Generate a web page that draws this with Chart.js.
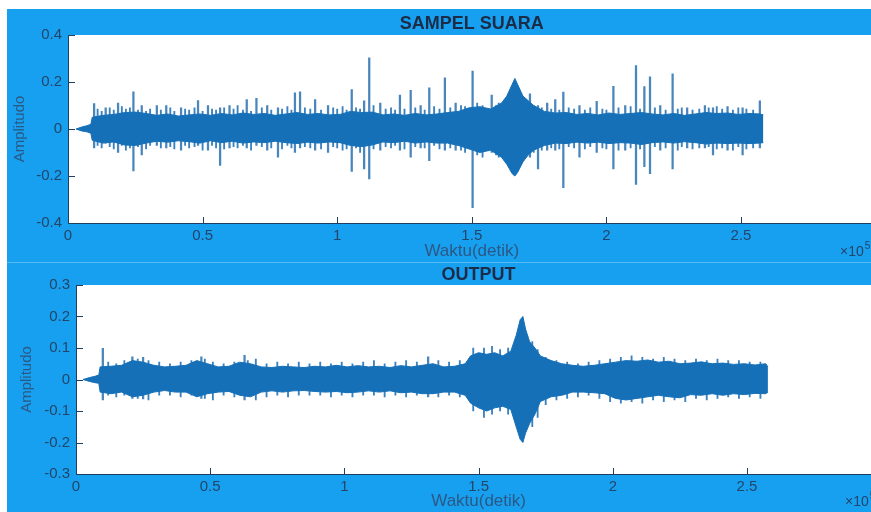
<!DOCTYPE html>
<html>
<head>
<meta charset="utf-8">
<script src="https://cdn.jsdelivr.net/npm/chart.js@4.4.0/dist/chart.umd.min.js"></script>
<style>
  html, body { margin: 0; padding: 0; width: 871px; height: 512px; overflow: hidden; background: #fff; }
  #bg { position: absolute; left: 7px; top: 9px; width: 864px; height: 503px; background: #18a0f0; }
  #seam { position: absolute; left: 7px; top: 262px; width: 864px; height: 1px; background: #55bbf6; }
  canvas { position: absolute; left: 0; }
  #topChart { top: 0; }
  #botChart { top: 262px; }
</style>
</head>
<body>
<div id="bg"></div>
<div id="seam"></div>
<canvas id="topChart" width="890" height="262"></canvas>
<canvas id="botChart" width="895" height="250"></canvas>
<script>
// ---------------------------------------------------------------
// Data (time in x10^5 samples, amplitude)
// ---------------------------------------------------------------

// SAMPEL SUARA: envelope of the dense waveform
const tTop = [
  0.03, 0.05, 0.07, 0.085, 0.09, 0.13, 0.17, 0.21, 0.25, 0.29,
  0.33, 0.37, 0.41, 0.45, 0.49, 0.53, 0.57, 0.61, 0.65, 0.69,
  0.73, 0.77, 0.81, 0.85, 0.89, 0.93, 0.97, 1.01, 1.05, 1.09,
  1.13, 1.17, 1.21, 1.25, 1.29, 1.33, 1.37, 1.41, 1.45, 1.49,
  1.53, 1.57, 1.61, 1.63, 1.65, 1.66, 1.67, 1.69, 1.71, 1.73,
  1.77, 1.81, 1.85, 1.89, 1.93, 1.97, 2.01, 2.05, 2.09, 2.13,
  2.17, 2.21, 2.25, 2.29, 2.33, 2.37, 2.41, 2.45, 2.49, 2.53,
  2.57, 2.583
];
const upTop = [
  0, 0.008, 0.014, 0.02, 0.05, 0.058, 0.062, 0.07, 0.072, 0.066,
  0.058, 0.064, 0.055, 0.06, 0.064, 0.058, 0.066, 0.06, 0.068, 0.062,
  0.066, 0.058, 0.064, 0.07, 0.062, 0.066, 0.06, 0.062, 0.075, 0.07,
  0.072, 0.06, 0.064, 0.058, 0.066, 0.06, 0.064, 0.07, 0.075, 0.09,
  0.095, 0.085, 0.11, 0.14, 0.19, 0.215, 0.19, 0.14, 0.12, 0.1,
  0.075, 0.068, 0.07, 0.062, 0.066, 0.06, 0.068, 0.062, 0.066, 0.07,
  0.064, 0.06, 0.066, 0.058, 0.064, 0.07, 0.066, 0.068, 0.062, 0.066,
  0.064, 0.06
];
const loTop = [
  0, -0.008, -0.012, -0.018, -0.048, -0.06, -0.055, -0.068, -0.07, -0.06,
  -0.052, -0.056, -0.05, -0.054, -0.06, -0.05, -0.058, -0.052, -0.06, -0.055,
  -0.058, -0.052, -0.058, -0.062, -0.056, -0.06, -0.055, -0.058, -0.07, -0.075,
  -0.068, -0.055, -0.058, -0.052, -0.06, -0.055, -0.06, -0.06, -0.07, -0.085,
  -0.1, -0.09, -0.12, -0.15, -0.19, -0.2, -0.185, -0.14, -0.11, -0.09,
  -0.07, -0.06, -0.062, -0.056, -0.06, -0.056, -0.062, -0.058, -0.06, -0.066,
  -0.058, -0.055, -0.06, -0.054, -0.058, -0.064, -0.06, -0.062, -0.06, -0.062,
  -0.06, -0.058
];

// SAMPEL SUARA: isolated clicks
const spikeTopT = [
  0.097, 0.14, 0.186, 0.243, 0.274, 0.33, 0.365, 0.42, 0.483, 0.52,
  0.565, 0.6, 0.664, 0.7, 0.74, 0.78, 0.843, 0.862, 0.918, 0.966,
  1.054, 1.1, 1.119, 1.16, 1.233, 1.273, 1.31, 1.342, 1.4, 1.44,
  1.503, 1.574, 1.716, 1.746, 1.78, 1.81, 1.84, 1.9, 1.964, 2.026,
  2.07, 2.11, 2.141, 2.162, 2.2, 2.246, 2.3, 2.366, 2.396, 2.45,
  2.506, 2.57
];
const spikeTopHi = [
  0.108, 0.09, 0.11, 0.158, 0.1, 0.1, 0.1, 0.09, 0.121, 0.1,
  0.09, 0.1, 0.125, 0.13, 0.1, 0.09, 0.154, 0.158, 0.125, 0.1,
  0.168, 0.12, 0.303, 0.11, 0.144, 0.165, 0.1, 0.175, 0.218, 0.11,
  0.246, 0.144, 0.15, 0.1, 0.11, 0.125, 0.157, 0.1, 0.118, 0.182,
  0.1, 0.27, 0.18, 0.222, 0.1, 0.235, 0.09, 0.1, 0.09, 0.095,
  0.09, 0.12
];
const spikeTopLo = [
  -0.08, -0.06, -0.1, -0.178, -0.11, -0.07, -0.08, -0.09, -0.07, -0.09,
  -0.155, -0.08, -0.08, -0.07, -0.09, -0.12, -0.1, -0.08, -0.09, -0.1,
  -0.18, -0.17, -0.212, -0.09, -0.09, -0.12, -0.08, -0.135, -0.09, -0.09,
  -0.335, -0.1, -0.12, -0.17, -0.09, -0.09, -0.25, -0.12, -0.1, -0.17,
  -0.09, -0.236, -0.16, -0.19, -0.09, -0.17, -0.08, -0.08, -0.11, -0.09,
  -0.11, -0.08
];

// SAMPEL SUARA: ragged fringe of the band
const fringeTopT = [
  0.11, 0.125, 0.155, 0.17, 0.2, 0.215, 0.23, 0.26, 0.29, 0.305,
  0.345, 0.38, 0.395, 0.435, 0.45, 0.47, 0.5, 0.535, 0.55, 0.58,
  0.615, 0.63, 0.65, 0.68, 0.72, 0.755, 0.795, 0.815, 0.83, 0.88,
  0.9, 0.94, 0.985, 1.0, 1.02, 1.035, 1.07, 1.085, 1.135, 1.18,
  1.2, 1.215, 1.25, 1.29, 1.325, 1.36, 1.38, 1.42, 1.46, 1.475,
  1.52, 1.54, 1.59, 1.6, 1.73, 1.76, 1.795, 1.825, 1.86, 1.88,
  1.92, 1.94, 1.985, 2.0, 2.045, 2.09, 2.125, 2.18, 2.22, 2.265,
  2.28, 2.32, 2.345, 2.38, 2.41, 2.43, 2.47, 2.49, 2.52, 2.545
];
const fringeTopHi = [
  0.085, 0.075, 0.09, 0.08, 0.095, 0.085, 0.09, 0.08, 0.075, 0.085,
  0.08, 0.09, 0.075, 0.085, 0.08, 0.09, 0.075, 0.085, 0.08, 0.09,
  0.085, 0.1, 0.08, 0.075, 0.09, 0.08, 0.085, 0.095, 0.08, 0.09,
  0.085, 0.08, 0.09, 0.085, 0.095, 0.08, 0.09, 0.085, 0.1, 0.085,
  0.09, 0.08, 0.085, 0.09, 0.08, 0.095, 0.085, 0.09, 0.1, 0.095,
  0.11, 0.1, 0.1, 0.11, 0.1, 0.09, 0.085, 0.08, 0.09, 0.085,
  0.08, 0.09, 0.085, 0.08, 0.09, 0.095, 0.085, 0.09, 0.08, 0.085,
  0.09, 0.08, 0.085, 0.09, 0.095, 0.085, 0.08, 0.09, 0.085, 0.08
];
const fringeTopLo = [
  -0.07, -0.08, -0.075, -0.085, -0.07, -0.09, -0.08, -0.075, -0.085, -0.07,
  -0.08, -0.075, -0.085, -0.07, -0.08, -0.075, -0.09, -0.07, -0.08, -0.085,
  -0.075, -0.08, -0.07, -0.09, -0.075, -0.08, -0.085, -0.07, -0.08, -0.075,
  -0.08, -0.085, -0.075, -0.08, -0.09, -0.085, -0.08, -0.1, -0.085, -0.075,
  -0.08, -0.07, -0.085, -0.075, -0.08, -0.07, -0.085, -0.08, -0.09, -0.1,
  -0.11, -0.12, -0.11, -0.12, -0.1, -0.09, -0.08, -0.085, -0.075, -0.08,
  -0.085, -0.075, -0.08, -0.085, -0.09, -0.08, -0.085, -0.075, -0.08, -0.09,
  -0.075, -0.085, -0.08, -0.075, -0.085, -0.08, -0.09, -0.075, -0.085, -0.08
];

// OUTPUT: envelope of the filtered waveform
const tBot = [
  0.026, 0.05, 0.07, 0.085, 0.09, 0.13, 0.17, 0.21, 0.25, 0.29,
  0.33, 0.37, 0.41, 0.45, 0.49, 0.53, 0.57, 0.61, 0.65, 0.69,
  0.73, 0.77, 0.81, 0.85, 0.89, 0.93, 0.97, 1.01, 1.05, 1.09,
  1.13, 1.17, 1.21, 1.25, 1.29, 1.33, 1.37, 1.41, 1.45, 1.47,
  1.50, 1.53, 1.56, 1.59, 1.62, 1.64, 1.655, 1.665, 1.675, 1.69,
  1.71, 1.73, 1.77, 1.81, 1.85, 1.89, 1.93, 1.97, 2.01, 2.05,
  2.09, 2.13, 2.17, 2.21, 2.25, 2.29, 2.33, 2.37, 2.41, 2.45,
  2.49, 2.53, 2.57, 2.578
];
const upBot = [
  0, 0.006, 0.01, 0.014, 0.04, 0.042, 0.045, 0.06, 0.055, 0.045,
  0.04, 0.042, 0.045, 0.06, 0.05, 0.04, 0.042, 0.055, 0.05, 0.04,
  0.038, 0.042, 0.04, 0.038, 0.042, 0.04, 0.045, 0.04, 0.044, 0.04,
  0.042, 0.038, 0.044, 0.04, 0.045, 0.05, 0.04, 0.042, 0.05, 0.075,
  0.085, 0.08, 0.085, 0.075, 0.09, 0.14, 0.19, 0.2, 0.16, 0.12,
  0.1, 0.075, 0.06, 0.05, 0.045, 0.042, 0.045, 0.05, 0.055, 0.06,
  0.058, 0.062, 0.055, 0.058, 0.05, 0.052, 0.056, 0.05, 0.052, 0.048,
  0.05, 0.046, 0.05, 0.04
];
const loBot = [
  0, -0.006, -0.01, -0.012, -0.04, -0.045, -0.04, -0.055, -0.05, -0.04,
  -0.035, -0.04, -0.04, -0.055, -0.045, -0.04, -0.038, -0.05, -0.055, -0.04,
  -0.036, -0.04, -0.036, -0.035, -0.038, -0.04, -0.038, -0.042, -0.04, -0.036,
  -0.04, -0.036, -0.042, -0.04, -0.045, -0.045, -0.04, -0.04, -0.05, -0.075,
  -0.09, -0.1, -0.09, -0.085, -0.095, -0.15, -0.19, -0.2, -0.17, -0.14,
  -0.11, -0.07, -0.055, -0.05, -0.04, -0.04, -0.042, -0.045, -0.06, -0.065,
  -0.06, -0.055, -0.05, -0.055, -0.058, -0.048, -0.05, -0.045, -0.05, -0.045,
  -0.048, -0.044, -0.045, -0.04
];

// OUTPUT: small isolated peaks
const spikeBotT  = [0.1, 0.21, 0.25, 0.467, 0.628, 1.312];
const spikeBotHi = [0.099, 0.072, 0.07, 0.072, 0.077, 0.072];
const spikeBotLo = [-0.065, -0.06, -0.062, -0.06, -0.065, -0.055];

// OUTPUT: ragged fringe of the band
const fringeBotT = [
  0.12, 0.15, 0.18, 0.23, 0.27, 0.31, 0.35, 0.39, 0.43, 0.48,
  0.51, 0.55, 0.59, 0.64, 0.67, 0.71, 0.75, 0.79, 0.83, 0.87,
  0.91, 0.95, 0.99, 1.03, 1.07, 1.11, 1.15, 1.19, 1.23, 1.27,
  1.35, 1.39, 1.43, 1.48, 1.52, 1.55, 1.58, 1.61, 1.7, 1.72,
  1.75, 1.79, 1.83, 1.87, 1.91, 1.95, 1.99, 2.03, 2.07, 2.11,
  2.15, 2.19, 2.23, 2.27, 2.31, 2.35, 2.39, 2.43, 2.47, 2.51,
  2.55
];
const fringeBotHi = [
  0.055, 0.05, 0.06, 0.065, 0.06, 0.055, 0.05, 0.055, 0.06, 0.065,
  0.055, 0.05, 0.055, 0.06, 0.065, 0.05, 0.055, 0.05, 0.055, 0.05,
  0.055, 0.05, 0.055, 0.05, 0.055, 0.06, 0.05, 0.055, 0.06, 0.055,
  0.06, 0.055, 0.06, 0.1, 0.1, 0.105, 0.095, 0.1, 0.12, 0.095,
  0.07, 0.06, 0.055, 0.05, 0.055, 0.06, 0.065, 0.07, 0.075, 0.07,
  0.065, 0.07, 0.065, 0.06, 0.065, 0.06, 0.065, 0.06, 0.06, 0.055,
  0.055
];
const fringeBotLo = [
  -0.05, -0.055, -0.05, -0.06, -0.065, -0.05, -0.05, -0.055, -0.05, -0.06,
  -0.065, -0.05, -0.055, -0.05, -0.065, -0.055, -0.05, -0.055, -0.05, -0.05,
  -0.05, -0.055, -0.05, -0.055, -0.05, -0.05, -0.055, -0.05, -0.055, -0.05,
  -0.055, -0.05, -0.055, -0.1, -0.12, -0.11, -0.1, -0.11, -0.15, -0.12,
  -0.08, -0.065, -0.06, -0.055, -0.05, -0.06, -0.07, -0.075, -0.07, -0.075,
  -0.065, -0.07, -0.065, -0.07, -0.06, -0.065, -0.06, -0.055, -0.06, -0.055,
  -0.06
];

// Axis ticks
const xTickValues = [0, 0.5, 1, 1.5, 2, 2.5];
const xTickLabels = ['0', '0.5', '1', '1.5', '2', '2.5'];
const yTopTickValues = [-0.4, -0.2, 0, 0.2, 0.4];
const yTopTickLabels = ['-0.4', '-0.2', '0', '0.2', '0.4'];
const yBotTickValues = [-0.3, -0.2, -0.1, 0, 0.1, 0.2, 0.3];
const yBotTickLabels = ['-0.3', '-0.2', '-0.1', '0', '0.1', '0.2', '0.3'];

// ---------------------------------------------------------------
// Styling
// ---------------------------------------------------------------
const FONT = '"Liberation Sans", Arial, sans-serif';
const WAVE = '#1570b8';
const SPIKE = 'rgba(28, 104, 170, 0.8)';
const FRINGE = 'rgba(24, 108, 180, 0.85)';
const AXIS = '#1f3f60';
const TICK = '#22456a';
const LABEL = '#2b5884';
const TITLE = '#1a2c47';

// white plot box, axes title, inward tick marks and the x10^5 exponent
const plotDecor = {
  id: 'plotDecor',
  beforeDraw(chart) {
    const { ctx, chartArea: a } = chart;
    ctx.save();
    ctx.fillStyle = '#ffffff';
    ctx.fillRect(a.left, a.top, a.right - a.left, a.bottom - a.top);
    ctx.restore();
  },
  afterDraw(chart, args, opts) {
    const { ctx, chartArea: a, scales: { x, y } } = chart;
    ctx.save();
    ctx.strokeStyle = AXIS;
    ctx.lineWidth = 1;
    ctx.beginPath();
    x.ticks.forEach(t => {
      const px = Math.round(x.getPixelForValue(t.value)) + 0.5;
      ctx.moveTo(px, a.bottom);
      ctx.lineTo(px, a.bottom - 6);
    });
    y.ticks.forEach(t => {
      const py = Math.round(y.getPixelForValue(t.value)) + 0.5;
      ctx.moveTo(a.left, py);
      ctx.lineTo(a.left + 7, py);
    });
    ctx.stroke();

    // title centred over the axes box
    ctx.fillStyle = TITLE;
    ctx.textAlign = 'center';
    ctx.textBaseline = 'middle';
    ctx.font = 'bold 18px ' + FONT;
    ctx.fillText(opts.title, (a.left + a.right) / 2, opts.titleY);

    ctx.fillStyle = TICK;
    ctx.textAlign = 'left';
    ctx.font = '14px ' + FONT;
    ctx.fillText('×10', opts.expX, opts.expY);
    const w = ctx.measureText('×10').width;
    ctx.font = '10px ' + FONT;
    ctx.fillText('5', opts.expX + w + 1, opts.expY - 6);
    ctx.restore();
  }
};

function points(ts, vals) {
  return ts.map((t, i) => ({ x: t, y: vals[i] }));
}

function ranges(ts, lo, hi) {
  return ts.map((t, i) => ({ x: t, y: [lo[i], hi[i]] }));
}

function buildChart(canvasId, p) {
  return new Chart(document.getElementById(canvasId), {
    type: 'line',
    data: {
      datasets: [
        {
          data: points(p.t, p.up),
          borderColor: WAVE,
          backgroundColor: WAVE,
          borderWidth: 1,
          pointRadius: 0,
          tension: 0,
          fill: '+1'
        },
        {
          data: points(p.t, p.lo),
          borderColor: WAVE,
          borderWidth: 1,
          pointRadius: 0,
          tension: 0,
          fill: false
        },
        {
          type: 'bar',
          data: ranges(p.fringeT, p.fringeLo, p.fringeHi),
          backgroundColor: FRINGE,
          barThickness: 1.2,
          grouped: false
        },
        {
          type: 'bar',
          data: ranges(p.spikeT, p.spikeLo, p.spikeHi),
          backgroundColor: SPIKE,
          barThickness: 1.6,
          grouped: false
        }
      ]
    },
    options: {
      responsive: false,
      animation: false,
      events: [],
      layout: { padding: p.padding },
      plugins: {
        legend: { display: false },
        tooltip: { enabled: false },
        title: { display: false },
        plotDecor: { title: p.title, titleY: p.titleY, expX: p.expX, expY: p.expY }
      },
      scales: {
        x: {
          type: 'linear',
          min: 0,
          max: 3,
          offset: false,
          grid: { display: false, drawTicks: false },
          border: { display: true, color: AXIS, width: 1 },
          afterBuildTicks: s => { s.ticks = xTickValues.map(v => ({ value: v })); },
          afterFit: s => { s.height = p.xAxisHeight; },
          ticks: {
            color: TICK,
            font: { family: FONT, size: 15 },
            padding: 4,
            maxRotation: 0,
            autoSkip: false,
            callback: (v, i) => xTickLabels[i]
          },
          title: {
            display: true,
            text: 'Waktu(detik)',
            color: LABEL,
            font: { family: FONT, size: 17 },
            padding: { top: 0, bottom: 0 }
          }
        },
        y: {
          type: 'linear',
          min: p.yMin,
          max: p.yMax,
          grid: { display: false, drawTicks: false },
          border: { display: true, color: AXIS, width: 1 },
          afterBuildTicks: s => { s.ticks = p.yTicks.map(v => ({ value: v })); },
          afterFit: s => { s.width = 60; },
          ticks: {
            color: TICK,
            font: { family: FONT, size: 15 },
            padding: 6,
            autoSkip: false,
            callback: (v, i) => p.yLabels[i]
          },
          title: {
            display: true,
            text: 'Amplitudo',
            color: LABEL,
            font: { family: FONT, size: 15 },
            padding: { top: p.yTitlePad, bottom: 0 }
          }
        }
      }
    },
    plugins: [plotDecor]
  });
}

buildChart('topChart', {
  t: tTop, up: upTop, lo: loTop,
  spikeT: spikeTopT, spikeHi: spikeTopHi, spikeLo: spikeTopLo,
  fringeT: fringeTopT, fringeHi: fringeTopHi, fringeLo: fringeTopLo,
  title: 'SAMPEL SUARA', titleY: 24,
  yMin: -0.4, yMax: 0.4, yTicks: yTopTickValues, yLabels: yTopTickLabels,
  padding: { top: 35, left: 8, right: 14.4, bottom: 0 },
  xAxisHeight: 39,
  yTitlePad: 3,
  expX: 840, expY: 252
});

buildChart('botChart', {
  t: tBot, up: upBot, lo: loBot,
  spikeT: spikeBotT, spikeHi: spikeBotHi, spikeLo: spikeBotLo,
  fringeT: fringeBotT, fringeHi: fringeBotHi, fringeLo: fringeBotLo,
  title: 'OUTPUT', titleY: 13,
  yMin: -0.3, yMax: 0.3, yTicks: yBotTickValues, yLabels: yBotTickLabels,
  padding: { top: 23, left: 16, right: 13.8, bottom: 0 },
  xAxisHeight: 38,
  yTitlePad: 1.7,
  expX: 845, expY: 240
});
</script>
</body>
</html>
